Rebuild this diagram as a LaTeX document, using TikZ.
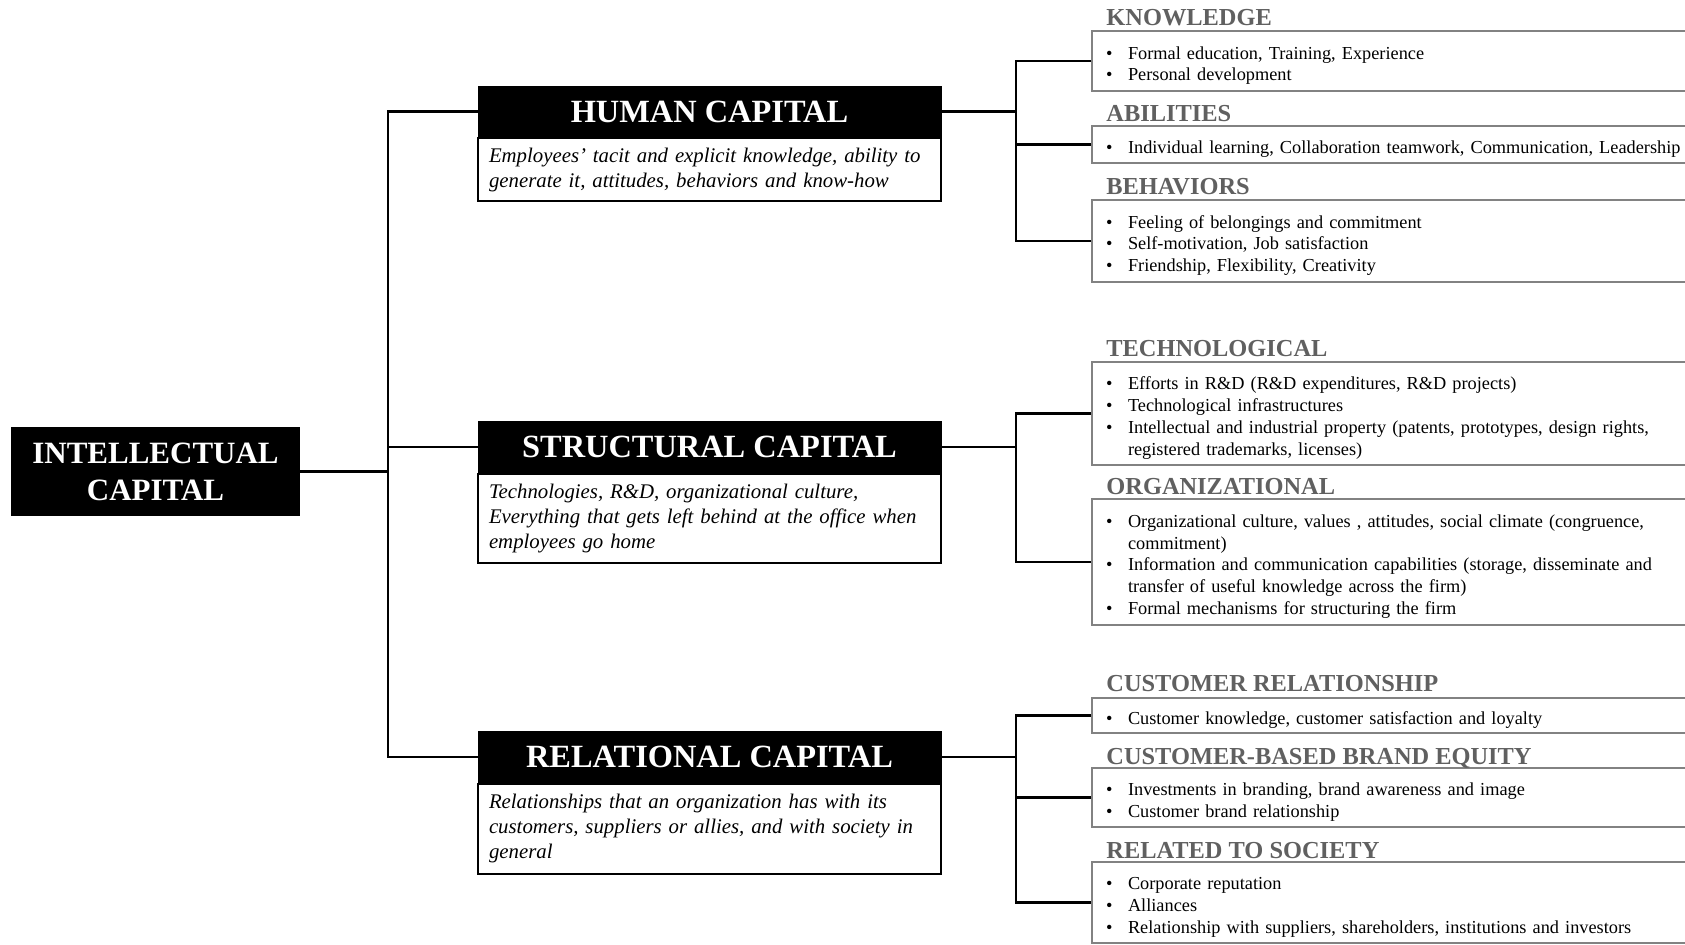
\documentclass[tikz,border=0pt]{standalone}
\usepackage{fontspec}
\setmainfont{Liberation Serif}
\usetikzlibrary{positioning}
\definecolor{titlegray}{RGB}{96,96,96}
\definecolor{boxgray}{RGB}{130,130,130}
\newcommand\itm[1]{\par\hangindent=11pt\hangafter=1\noindent\makebox[11pt][l]{\textbullet}#1\par}
\tikzset{
	capbox/.style={fill=black, draw=black, text=white, font=\fontsize{16.2}{19}\selectfont\bfseries, minimum width=231.5pt, minimum height=25.5pt, inner sep=0pt},
	descbox/.style={draw=black, line width=1pt, fill=white, text width=220.5pt, inner xsep=5.5pt, inner ysep=0pt, align=left, anchor=north, font=\fontsize{10.4}{12.5}\selectfont\itshape},
	partbox/.style={draw=boxgray, line width=1pt, text width=300pt, inner xsep=7pt, inner ysep=0pt, align=left, anchor=west, font=\fontsize{9.15}{10.9}\selectfont},
	parttitle/.style={text=titlegray, font=\fontsize{12.2}{14}\selectfont\bfseries, anchor=base west, inner sep=0pt},
	link/.style={line width=1.1pt}
}
\begin{document}
\begin{tikzpicture}[x=0.5pt,y=-0.5pt]
	\useasboundingbox (0,0) rectangle (1685,944);
	\coordinate (trunk) at (388,0);
	\coordinate (fork) at (1016,0);

	% root
	\node[fill=black, text=white, align=center, minimum width=144.5pt, minimum height=44.5pt, inner sep=0pt,
		font=\fontsize{15.5}{18.5}\selectfont\bfseries] (ic) at (155.5,471.5) {INTELLECTUAL\\CAPITAL};

	% the three capitals
	\node[capbox] (hum) at (709.5,111.5) {HUMAN CAPITAL};
	\node[descbox, minimum height=31.5pt] (humd) at (hum.south)
		{Employees’ tacit and explicit knowledge, ability to\\generate it, attitudes, behaviors and know-how};
	\node[capbox] (str) at (709.5,447) {STRUCTURAL CAPITAL};
	\node[descbox, minimum height=44.5pt] (strd) at (str.south)
		{Technologies, R\&D, organizational culture,\\Everything that gets left behind at the office when\\employees go home};
	\node[capbox] (rel) at (709.5,757) {RELATIONAL CAPITAL};
	\node[descbox, minimum height=45pt] (reld) at (rel.south)
		{Relationships that an organization has with its\\customers, suppliers or allies, and with society in\\general};

	% human capital parts
	\node[partbox, minimum height=30pt] (know) at (1091,61)
		{\itm{Formal education, Training, Experience}\itm{Personal development}};
	\node[partbox, minimum height=18.5pt] (abil) at (1091,144.5)
		{\itm{Individual learning, Collaboration teamwork, Communication, Leadership}};
	\node[partbox, minimum height=41pt] (behav) at (1091,241)
		{\itm{Feeling of belongings and commitment}\itm{Self-motivation, Job satisfaction}\itm{Friendship, Flexibility, Creativity}};

	% structural capital parts
	\node[partbox, minimum height=51.5pt] (tech) at (1091,413.5)
		{\itm{Efforts in R\&D (R\&D expenditures, R\&D projects)}\itm{Technological infrastructures}%
		\itm{Intellectual and industrial property (patents, prototypes, design rights,\newline registered trademarks, licenses)}};
	\node[partbox, minimum height=63pt] (org) at (1091,562)
		{\itm{Organizational culture, values , attitudes, social climate (congruence,\newline commitment)}%
		\itm{Information and communication capabilities (storage, disseminate and\newline transfer of useful knowledge across the firm)}%
		\itm{Formal mechanisms for structuring the firm}};

	% relational capital parts
	\node[partbox, minimum height=17.5pt] (cust) at (1091,715.5)
		{\itm{Customer knowledge, customer satisfaction and loyalty}};
	\node[partbox, minimum height=29.5pt] (cbbe) at (1091,797.5)
		{\itm{Investments in branding, brand awareness and image}\itm{Customer brand relationship}};
	\node[partbox, minimum height=40.5pt] (soc) at (1091,902.5)
		{\itm{Corporate reputation}\itm{Alliances}\itm{Relationship with suppliers, shareholders, institutions and investors}};

	% titles above the parts
	\node[parttitle] (knowt) at ([shift={(15,-5)}]know.north west) {KNOWLEDGE};
	\node[parttitle] (abilt) at ([shift={(15,-4)}]abil.north west) {ABILITIES};
	\node[parttitle] (behavt) at ([shift={(15,-5)}]behav.north west) {BEHAVIORS};
	\node[parttitle] (techt) at ([shift={(15,-5)}]tech.north west) {TECHNOLOGICAL};
	\node[parttitle] (orgt) at ([shift={(15,-4)}]org.north west) {ORGANIZATIONAL};
	\node[parttitle] (custt) at ([shift={(15,-6)}]cust.north west) {CUSTOMER RELATIONSHIP};
	\node[parttitle] (cbbet) at ([shift={(15,-3)}]cbbe.north west) {CUSTOMER-BASED BRAND EQUITY};
	\node[parttitle] (soct) at ([shift={(15,-3)}]soc.north west) {RELATED TO SOCIETY};

	% connectors
	\draw[link] (ic.east) -- (ic.east -| trunk);
	\draw[link] (hum.west) -| (trunk |- rel.west) -- (rel.west);
	\draw[link] (str.west) -- (str.west -| trunk);

	\draw[link] (hum.east) -- (hum.east -| fork);
	\draw[link] (know.west) -| (fork |- behav.west) -- (behav.west);
	\draw[link] (abil.west) -- (abil.west -| fork);

	\draw[link] (str.east) -- (str.east -| fork);
	\draw[link] (tech.west) -| (fork |- org.west) -- (org.west);

	\draw[link] (rel.east) -- (rel.east -| fork);
	\draw[link] (cust.west) -| (fork |- soc.west) -- (soc.west);
	\draw[link] (cbbe.west) -- (cbbe.west -| fork);
\end{tikzpicture}
\end{document}
